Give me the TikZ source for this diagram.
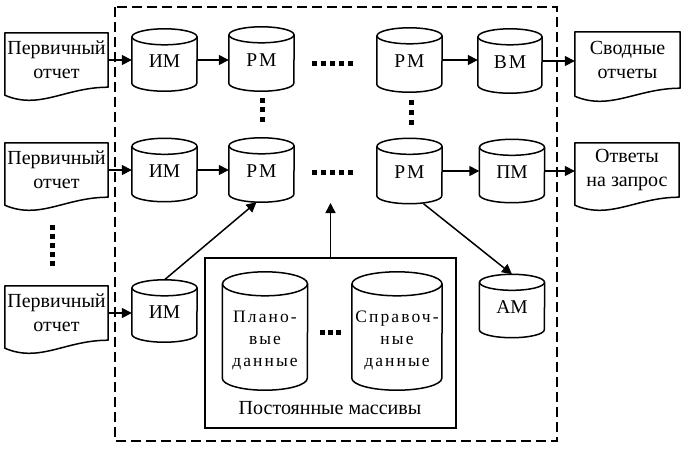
\documentclass[tikz,border=0pt]{standalone}
\usepackage{fontspec}
\setmainfont{Liberation Serif}
\newfontfamily\spacedfont[LetterSpace=12]{Liberation Serif}
\usetikzlibrary{arrows.meta,calc}
\tikzset{
  ln/.style={line width=1.5pt},
  arr/.style={ln, -{Triangle[length=10pt,width=10pt]}},
  docbody/.style={minimum width=103pt, minimum height=54pt, inner sep=0pt,
    font=\fontsize{20}{24}\selectfont, align=center},
  cylbody/.style={inner sep=0pt},
  cyltext/.style={font=\fontsize{19.5}{22}\selectfont, align=center, inner sep=0pt},
  innertext/.style={font=\spacedfont\fontsize{17.5}{22}\selectfont, align=center, inner sep=0pt},
}
% name, x, y, w, h, ry, dy, style
\newcommand{\mycyl}[8]{%
  \node[cylbody, minimum width=#4pt, minimum height=#5pt] (#1) at (#2,#3) {};
  \draw[ln] ([yshift=-#6pt]#1.north) ellipse [x radius=#4pt/2, y radius=#6pt];
  \draw[ln] ([yshift=-#6pt]#1.north west) -- ([yshift=#6pt]#1.south west)
     arc[start angle=180, end angle=360, x radius=#4pt/2, y radius=#6pt]
     -- ([yshift=-#6pt]#1.north east);
  \coordinate (#1t) at ([yshift=-#7pt]#1.center);
}
\newcommand{\docoutline}[1]{%
  \draw[ln, line join=round] ([yshift=-8pt]#1.south west) -- (#1.north west) -- (#1.north east)
    -- (#1.south east) .. controls +(-43pt,0pt) and +(35pt,-15pt) .. ([yshift=-8pt]#1.south west) -- cycle;}
\newcommand{\sqdot}[2]{\fill ({#1-2.5},{#2-2.5}) rectangle ({#1+2.5},{#2+2.5});}
\begin{document}
\begin{tikzpicture}[x=1pt,y=-1pt]
\useasboundingbox (0,0) rectangle (684,448);
% outer dashed frame
\draw[ln, dash pattern=on 10pt off 5pt] (115,7) rectangle (557,441);
% documents
\node[docbody] (d1) at (56.5,60) {Первичный\\отчет};
\node[docbody] (d2) at (56.5,170) {Первичный\\отчет};
\node[docbody] (d3) at (56.5,313) {Первичный\\отчет};
\node[docbody, minimum width=105pt, minimum height=56pt] (s1) at (627.5,60) {Сводные\\отчеты};
\node[docbody, minimum width=104pt] (s2) at (627,170) {Ответы\\на запрос};
\docoutline{d1}\docoutline{d2}\docoutline{d3}\docoutline{s1}\docoutline{s2}
% cylinders
\mycyl{im1}{164.5}{60}{65}{62}{8}{1}{cyltext}
\mycyl{rm1}{261.5}{59}{65}{64}{8}{1}{cyltext}
\mycyl{rm3}{409.5}{60}{65}{64}{8}{1}{cyltext}
\mycyl{vm}{510}{61}{64}{64}{8}{1}{cyltext}
\mycyl{im2}{164.5}{170}{65}{63}{8}{1}{cyltext}
\mycyl{rm2}{261.5}{170}{65}{64}{8}{1}{cyltext}
\mycyl{rm4}{409.5}{171}{65}{65}{8}{1}{cyltext}
\mycyl{pm}{512}{171}{65}{63}{8}{1}{cyltext}
\mycyl{im3}{164.5}{311}{65}{62}{8}{1}{cyltext}
\mycyl{am}{512}{306}{65}{63}{8}{1}{cyltext}
\node[cyltext] (im1l) at (im1t) {ИМ};
\node[cyltext] (rm1l) at (rm1t) {Р\kern2pt М};
\node[cyltext] (rm3l) at (rm3t) {Р\kern2pt М};
\node[cyltext] (vml) at (vmt) {В\kern2pt М};
\node[cyltext] (im2l) at (im2t) {ИМ};
\node[cyltext] (rm2l) at (rm2t) {Р\kern2pt М};
\node[cyltext] (rm4l) at (rm4t) {Р\kern2pt М};
\node[cyltext] (pml) at (pmt) {ПМ};
\node[cyltext] (im3l) at (im3t) {ИМ};
\node[cyltext] (aml) at (amt) {АМ};
% constant arrays box
\node[draw, ln, minimum width=251pt, minimum height=170pt, inner sep=0pt] (const) at (330.5,343) {};
\mycyl{pl}{265}{331}{85}{118}{12}{9}{innertext}
\mycyl{sp}{397}{331}{90}{118}{12}{9}{innertext}
\node[innertext] (pll) at (plt) {Плано-\\вые\\данные};
\node[innertext] (spl) at (spt) {Справоч-\\ные\\данные};
\node[font=\fontsize{20}{24}\selectfont, inner sep=0pt] (constlabel) at (330,408) {Постоянные массивы};
% arrows
\draw[arr] (d1.east) -- (im1.west);
\draw[arr] (im1.east) -- (im1.east -| rm1.west);
\draw[arr] (rm3.east) -- (rm3.east -| vm.west);
\draw[arr] (vm.east) -- (vm.east -| s1.west);
\draw[arr] (d2.east) -- (d2.east -| im2.west);
\draw[arr] (im2.east) -- (im2.east -| rm2.west);
\draw[arr] (rm4.east) -- (rm4.east -| pm.west);
\draw[arr] (pm.east) -- (pm.east -| s2.west);
\draw[arr] (d3.east) -- (d3.east -| im3.west);
\draw[arr] (im3.north) -- ([xshift=-5pt]rm2.south);
\draw[arr] ([xshift=14pt]rm4.south) -- (am.north);
\coordinate (up) at (330.5,203);
\draw[arr] (const.north) -- (up);
% dots
\foreach \x in {314,323,332,341,350} {\sqdot{\x}{63}\sqdot{\x}{172}}
\foreach \y in {100,109.5,119} {\sqdot{262}{\y}}
\foreach \y in {102,112,122} {\sqdot{411}{\y}}
\foreach \y in {227,236,245,254,263} {\sqdot{52}{\y}}
\foreach \x in {322,330,338} {\sqdot{\x}{332}}
\end{tikzpicture}
\end{document}
